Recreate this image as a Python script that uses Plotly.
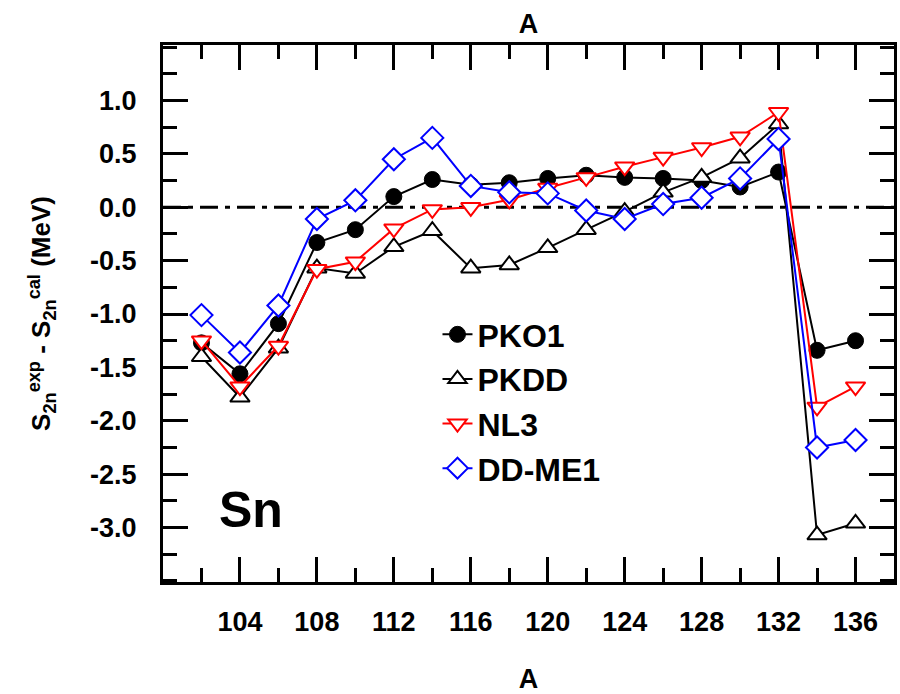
import plotly.graph_objects as go

A = [102, 104, 106, 108, 110, 112, 114, 116, 118, 120, 122, 124, 126, 128, 130, 132, 134, 136]
pko1 = [-1.27, -1.56, -1.09, -0.33, -0.21, 0.10, 0.26, 0.21, 0.23, 0.27, 0.30, 0.28, 0.27, 0.25, 0.19, 0.33, -1.34, -1.25]
pkdd = [-1.40, -1.78, -1.32, -0.57, -0.62, -0.37, -0.22, -0.57, -0.54, -0.38, -0.21, -0.04, 0.14, 0.28, 0.46, 0.78, -3.07, -2.96]
nl3 = [-1.25, -1.68, -1.30, -0.58, -0.51, -0.20, -0.02, 0.00, 0.07, 0.18, 0.28, 0.38, 0.47, 0.56, 0.66, 0.89, -1.87, -1.68]
ddme1 = [-1.01, -1.36, -0.92, -0.11, 0.065, 0.45, 0.65, 0.20, 0.14, 0.13, -0.03, -0.11, 0.03, 0.09, 0.27, 0.64, -2.25, -2.18]

x_range = [100, 138]
y_range = [-3.51, 1.52]
x_tickvals = [104, 108, 112, 116, 120, 124, 128, 132, 136]
y_tickvals = [1.0, 0.5, 0.0, -0.5, -1.0, -1.5, -2.0, -2.5, -3.0]
y_ticktext = ["1.0", "0.5", "0.0", "-0.5", "-1.0", "-1.5", "-2.0", "-2.5", "-3.0"]

FONT = "Liberation Sans, Arial, sans-serif"

fig = go.Figure()

series = [
    ("PKO1", pko1, "black", dict(symbol="circle", size=16, color="black", line=dict(color="black", width=1))),
    ("PKDD", pkdd, "black", dict(symbol="triangle-up", size=17, color="white", line=dict(color="black", width=2))),
    ("NL3", nl3, "red", dict(symbol="triangle-down", size=17, color="white", line=dict(color="red", width=2))),
    ("DD-ME1", ddme1, "blue", dict(symbol="diamond", size=17, color="white", line=dict(color="blue", width=2))),
]
for name, ys, col, mk in series:
    fig.add_trace(go.Scatter(x=A, y=ys, mode="lines+markers", name=name,
                             line=dict(color=col, width=2), marker=mk))

# top axis (ticks only + title)
fig.add_trace(go.Scatter(x=[None], y=[None], xaxis="x2", showlegend=False))

fig.add_shape(type="line", xref="paper", yref="y", x0=0, x1=1, y0=0, y1=0,
              line=dict(color="black", width=3, dash="18px,7px,5px,7px"), layer="below")

fig.add_annotation(text="Sn", xref="x", yref="y", x=102.8, y=-2.84, xanchor="left", yanchor="middle",
                   showarrow=False, font=dict(family=FONT, size=50, color="black", weight="bold"))

axis_common = dict(showline=True, linecolor="black", linewidth=3, ticks="inside",
                   tickcolor="black", tickwidth=3, showgrid=False, zeroline=False)

fig.update_layout(
    width=900, height=694,
    margin=dict(l=163, r=3, t=45, b=112),
    paper_bgcolor="white", plot_bgcolor="white",
    font=dict(family=FONT, color="black", weight="bold"),
    xaxis=dict(range=x_range, tickvals=x_tickvals, ticklen=25,
               tickfont=dict(size=27, family=FONT, weight="bold"),
               ticklabelstandoff=14,
               minor=dict(dtick=2, tick0=100, ticklen=14, tickwidth=3, ticks="inside", tickcolor="black"),
               title=dict(text="A", font=dict(size=27, family=FONT, weight="bold"), standoff=33),
               **axis_common),
    xaxis2=dict(range=x_range, overlaying="x", side="top", tickvals=x_tickvals, ticklen=25,
                showticklabels=False,
                minor=dict(dtick=2, tick0=100, ticklen=14, tickwidth=3, ticks="inside", tickcolor="black"),
                title=dict(text="A", font=dict(size=27, family=FONT, weight="bold"), standoff=1),
                **axis_common),
    yaxis=dict(range=y_range, tickvals=y_tickvals, ticktext=y_ticktext, ticklen=25,
               tickfont=dict(size=27, family=FONT, weight="bold"),
               ticklabelstandoff=18, mirror="ticks",
               minor=dict(dtick=0.25, tick0=0, ticklen=14, tickwidth=3, ticks="inside", tickcolor="black"),
               title=dict(text="S<sub>2n</sub><sup>exp</sup> - S<sub>2n</sub><sup>cal</sup> (MeV)",
                          font=dict(size=26, family=FONT, weight="bold"), standoff=32),
               **axis_common),
    legend=dict(x=0.3755, y=0.512, xanchor="left", yanchor="top", bgcolor="rgba(0,0,0,0)",
                font=dict(size=32, family=FONT, weight="bold"), itemwidth=30, tracegroupgap=0),
    showlegend=True,
)

fig.write_html("out.html")
